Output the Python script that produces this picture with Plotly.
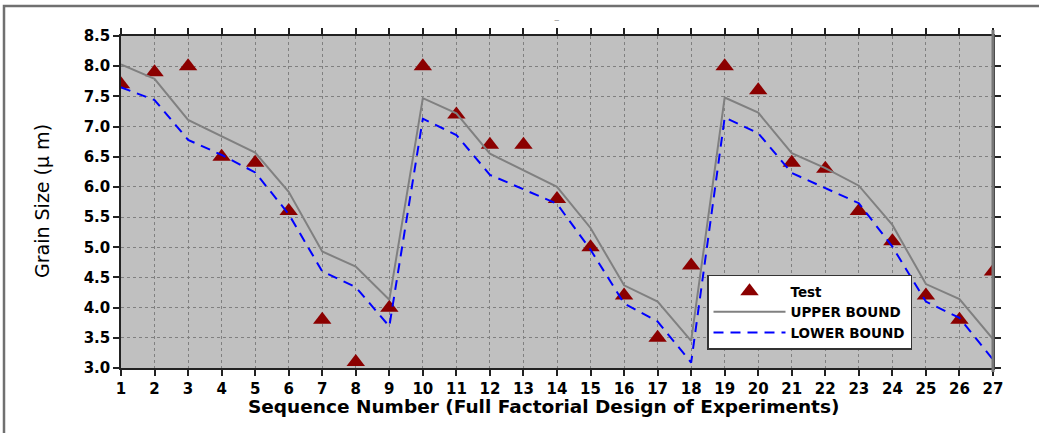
import plotly.graph_objects as go

# Experiment sequence (full factorial design, 27 runs)
sequence = list(range(1, 28))

# Measured grain size for each run
test_size = [7.7, 7.9, 8.0, 6.5, 6.4, 5.6, 3.8, 3.1, 4.0,
             8.0, 7.2, 6.7, 6.7, 5.8, 5.0, 4.2, 3.5, 4.7,
             8.0, 7.6, 6.4, 6.3, 5.6, 5.1, 4.2, 3.8, 4.6]

# Predicted upper and lower bounds
upper_bound = [8.03, 7.79, 7.11, 6.84, 6.57, 5.92, 4.93, 4.68, 4.13,
               7.47, 7.22, 6.55, 6.28, 6.00, 5.32, 4.37, 4.10, 3.45,
               7.48, 7.23, 6.56, 6.31, 6.02, 5.37, 4.39, 4.14, 3.48]
lower_bound = [7.65, 7.44, 6.78, 6.53, 6.24, 5.55, 4.60, 4.34, 3.69,
               7.13, 6.86, 6.20, 5.96, 5.72, 4.96, 4.07, 3.77, 3.09,
               7.15, 6.89, 6.23, 5.98, 5.73, 5.01, 4.10, 3.83, 3.14]

y_ticks = [3.0, 3.5, 4.0, 4.5, 5.0, 5.5, 6.0, 6.5, 7.0, 7.5, 8.0, 8.5]

W, H = 1039, 433
L, R, T, B = 121, 46, 36, 65
PW, PH = W - L - R, H - T - B


def px_x(p):
    return (p - L) / PW


def px_y(p):
    return (H - B - p) / PH


FONT = "DejaVu Sans, Verdana, sans-serif"

fig = go.Figure()

fig.add_trace(go.Scatter(
    x=sequence, y=test_size, mode="markers", name="Test",
    marker=dict(symbol="triangle-up", size=16, color="#8B0000",
                line=dict(width=0)),
))
fig.add_trace(go.Scatter(
    x=sequence, y=upper_bound, mode="lines", name="UPPER BOUND",
    line=dict(color="#808080", width=2),
))
fig.add_trace(go.Scatter(
    x=sequence, y=lower_bound, mode="lines", name="LOWER BOUND",
    line=dict(color="#0000FF", width=2, dash="10px,7px"),
))

axis_common = dict(
    showline=True, linecolor="#222222", linewidth=1.5, mirror="ticks",
    ticks="outside", ticklen=6, tickcolor="#222222", tickwidth=1.5,
    showgrid=True, gridcolor="#808080", gridwidth=1, griddash="dot",
    zeroline=False,
    tickfont=dict(family=FONT, size=15, color="#000000", weight="bold"),
)

fig.update_xaxes(range=[1, 27], tickvals=sequence, **axis_common)
fig.update_yaxes(range=[3.0, 8.5], tickvals=y_ticks, tickformat=".1f",
                 **axis_common)

fig.update_layout(
    width=W, height=H,
    margin=dict(l=L, r=R, t=T, b=B, pad=0),
    paper_bgcolor="#FFFFFF", plot_bgcolor="#C0C0C0",
    showlegend=True,
    legend=dict(
        x=px_x(707), y=px_y(312), xanchor="left", yanchor="middle",
        bgcolor="#FFFFFF", bordercolor="#333333", borderwidth=1.5,
        font=dict(family=FONT, size=13.5, color="#000000", weight="bold"),
        tracegroupgap=0, itemwidth=72,
    ),
    font=dict(family=FONT),
    annotations=[
        dict(text="Grain Size (\u03bc m)", textangle=-90,
             x=px_x(42), y=px_y(201), xref="paper", yref="paper",
             showarrow=False, xanchor="center", yanchor="middle",
             font=dict(family=FONT, size=19, color="#000000")),
        dict(text="Sequence Number (Full Factorial Design of Experiments)",
             x=px_x(543), y=px_y(407), xref="paper", yref="paper",
             showarrow=False, xanchor="center", yanchor="middle",
             font=dict(family=FONT, size=18.5, color="#000000", weight="bold")),
        dict(text="\u2013", x=px_x(557), y=px_y(19), xref="paper",
             yref="paper", showarrow=False, xanchor="center",
             yanchor="middle",
             font=dict(family=FONT, size=11, color="#999999")),
    ],
    shapes=[
        # outer figure frame
        dict(type="rect", xref="paper", yref="paper",
             x0=px_x(4), x1=px_x(1060), y0=px_y(460), y1=px_y(6),
             line=dict(color="#707070", width=2.5), layer="below"),
        # heavier right-hand axis line
        dict(type="line", xref="paper", yref="paper",
             x0=1, x1=1, y0=px_y(372), y1=px_y(30),
             line=dict(color="#777777", width=3)),
    ],
)

fig.write_html("out.html")
